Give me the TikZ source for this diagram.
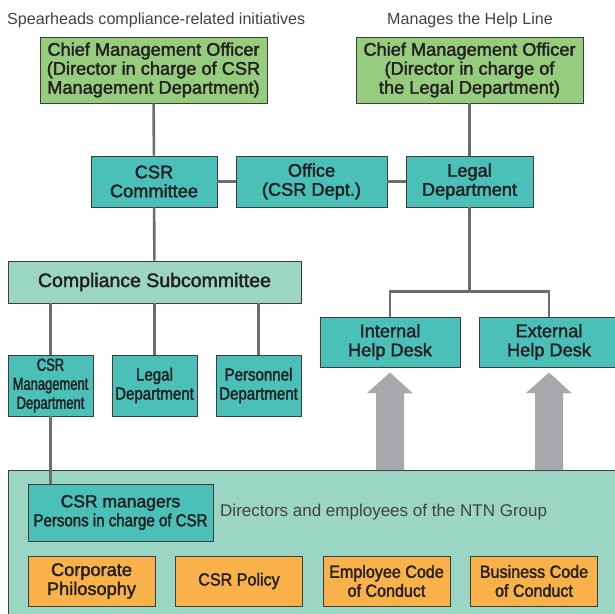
\documentclass[tikz,border=0pt]{standalone}
\usepackage{fontspec}
\setmainfont{Liberation Sans}
\newfontfamily\boxfont[FakeBold=1.8]{Liberation Sans}
\newfontfamily\semifont[FakeBold=1.8,FakeStretch=0.92]{Liberation Sans}
\newfontfamily\narrowfont[FakeBold=1.8,FakeStretch=0.86]{Liberation Sans}
\newfontfamily\xnarrowfont[FakeBold=1.8,FakeStretch=0.74]{Liberation Sans}
\usetikzlibrary{calc}
\definecolor{cmogreen}{RGB}{150,204,126}
\definecolor{deskteal}{RGB}{75,192,185}
\definecolor{paleteal}{RGB}{155,213,196}
\definecolor{codeorange}{RGB}{249,178,74}
\definecolor{linkgray}{RGB}{109,110,113}
\definecolor{arrowgray}{RGB}{167,169,172}
\definecolor{boxline}{RGB}{60,60,60}
\definecolor{inkdark}{RGB}{35,31,32}
\tikzset{
box/.style={draw=boxline,line width=0.9pt,inner sep=0pt,align=center,text=inkdark,font=\boxfont\fontsize{18.2}{19}\selectfont},
cmobox/.style={box,fill=cmogreen,minimum width=227pt,minimum height=66pt},
unitbox/.style={box,fill=deskteal},
deptbox/.style={box,fill=deskteal,minimum width=85pt,minimum height=61pt},
codebox/.style={box,fill=codeorange,minimum width=127pt,minimum height=50pt},
link/.style={draw=linkgray,line width=2.6pt},
caption/.style={inner sep=0pt,text=inkdark!85,font=\fontsize{16.1}{19}\selectfont}
}
\begin{document}
\begin{tikzpicture}[x=1pt,y=-1pt]
\useasboundingbox[fill=white](0,0)rectangle(615,613);
\node[caption,anchor=west](noteL)at(7,20){Spearheads compliance-related initiatives};
\node[caption](noteR)at(470,20){Manages the Help Line};
\node[cmobox](cmoL)at(153.5,70){Chief Management Officer\\(Director in charge of CSR\\Management Department)};
\node[cmobox](cmoR)at(469.5,70){Chief Management Officer\\(Director in charge of\\the Legal Department)};
\node[unitbox,minimum width=126pt,minimum height=51pt](csrcom)at(154,181.5){CSR\\Committee};
\node[unitbox,minimum width=151pt,minimum height=51pt](office)at(311.5,181.5){Office\\(CSR Dept.)};
\node[unitbox,minimum width=127pt,minimum height=51pt](legal)at(469.5,181.5){Legal\\Department};
\node[box,fill=paleteal,minimum width=293pt,minimum height=42pt,font=\boxfont\fontsize{19.5}{19}\selectfont](subcom)at(154.5,282){Compliance Subcommittee};
\node[deptbox,font=\xnarrowfont\fontsize{17.5}{19}\selectfont](csrdept)at(50.5,385.5){CSR\\Management\\Department};
\node[deptbox,font=\narrowfont\fontsize{17.5}{19}\selectfont](legaldept)at(154.5,385.5){Legal\\Department};
\node[deptbox,font=\narrowfont\fontsize{17.5}{19}\selectfont](persdept)at(258.5,385.5){Personnel\\Department};
\node[unitbox,minimum width=140pt,minimum height=50pt](intdesk)at(390,342){Internal\\Help Desk};
\node[unitbox,minimum width=140pt,minimum height=50pt](extdesk)at(549,342){External\\Help Desk};
\node[box,fill=paleteal,anchor=north west,minimum width=620pt,minimum height=160pt](group)at(8,470){};
\node[unitbox,minimum width=185pt,minimum height=57pt,font=\boxfont\fontsize{17.5}{19}\selectfont](csrmgr)at(120.5,512.5){CSR managers\\{\narrowfont Persons in charge of CSR}};
\node[caption,anchor=west,font=\fontsize{17}{19}\selectfont](staff)at(220,512){Directors and employees of the NTN Group};
\node[codebox](code1)at(91.5,581){Corporate\\Philosophy};
\node[codebox,font=\semifont\fontsize{17.5}{19}\selectfont](code2)at(239,581){CSR Policy};
\node[codebox,font=\semifont\fontsize{17.5}{19}\selectfont](code3)at(386.5,581){Employee Code\\of Conduct};
\node[codebox,font=\semifont\fontsize{17.5}{19}\selectfont](code4)at(534,581){Business Code\\of Conduct};
\draw[link](cmoL)--(csrcom);
\draw[link](cmoR)--(legal);
\draw[link](csrcom)--(office);
\draw[link](office)--(legal);
\draw[link](csrcom)--(subcom);
\foreach \d in {csrdept,legaldept,persdept}{\draw[link](\d.north)--(\d.north|-subcom.south);}
\draw[link](csrdept.south)--(csrdept.south|-csrmgr.north);
\draw[link](legal.south)--($(legal.south|-intdesk.north)+(0,-25)$);
\draw[link](intdesk.north)--++(0,-25)-|(extdesk.north);
\foreach \d in {intdesk,extdesk}{\fill[arrowgray]($(\d.south)+(0,5)$)--++(23,21)--++(-9,0)--($(\d.south|-group.north)+(14,0)$)--++(-28,0)--++(0,-77)--++(-9,0)--cycle;}
\end{tikzpicture}
\end{document}
